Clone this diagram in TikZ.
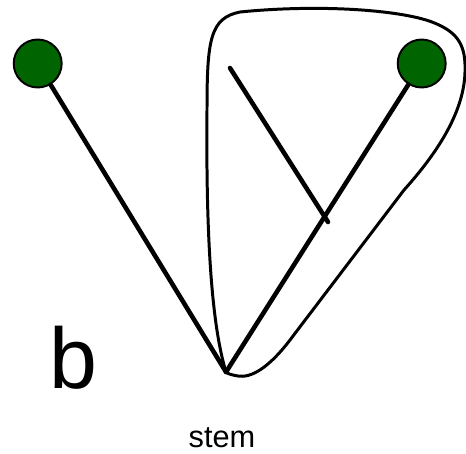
\documentclass[tikz,border=0pt]{standalone}
\usepackage{fontspec}
\setmainfont{Liberation Sans}
\usepackage{tikz}
\usetikzlibrary{calc}
\definecolor{leafgreen}{RGB}{0,100,0}

\begin{document}
\begin{tikzpicture}[
  x=0.02cm, y=-0.02cm,
  leaf/.style={circle, draw, fill=leafgreen, line width=1.1pt, minimum size=0.96cm, inner sep=0pt},
  edge/.style={line width=2.6pt, line cap=round},
  hull/.style={line width=1.7pt},
  every node/.style={inner sep=0pt}
]
\useasboundingbox (0,0) rectangle (466,453);

% Leaves and stem
\node[leaf] (leftleaf) at (37.7,63.5) {};
\node[leaf] (rightleaf) at (421.7,63.5) {};
\coordinate (stemtip) at (226,372);
\coordinate (inner) at (230,68);
\coordinate (junction) at (328,222);

% Labels
\node[anchor=base, font=\fontsize{49}{50}\selectfont] (blabel) at (73,388) {b};
\node[anchor=base, font=\fontsize{17.5}{18}\selectfont] (stemlabel) at (222,447) {stem};

% Branches
\draw[edge] (leftleaf) -- (stemtip);
\draw[edge] (rightleaf) -- (stemtip);
\draw[edge] (inner) -- (junction);

% Hull round the right clade
\draw[hull] (stemtip)
  .. controls (210,320) and (206,220) .. (207,110)
  .. controls (207,40) and (210,18) .. (240,12)
  .. controls (320,4) and (400,10) .. (432,22)
  .. controls (458,32) and (466,45) .. (465,72)
  .. controls (464,110) and (440,150) .. (404,190)
  -- (293,336)
  .. controls (268,370) and (250,378) .. (238,376)
  .. controls (232,375) and (228,374) .. (stemtip);

\end{tikzpicture}
\end{document}
